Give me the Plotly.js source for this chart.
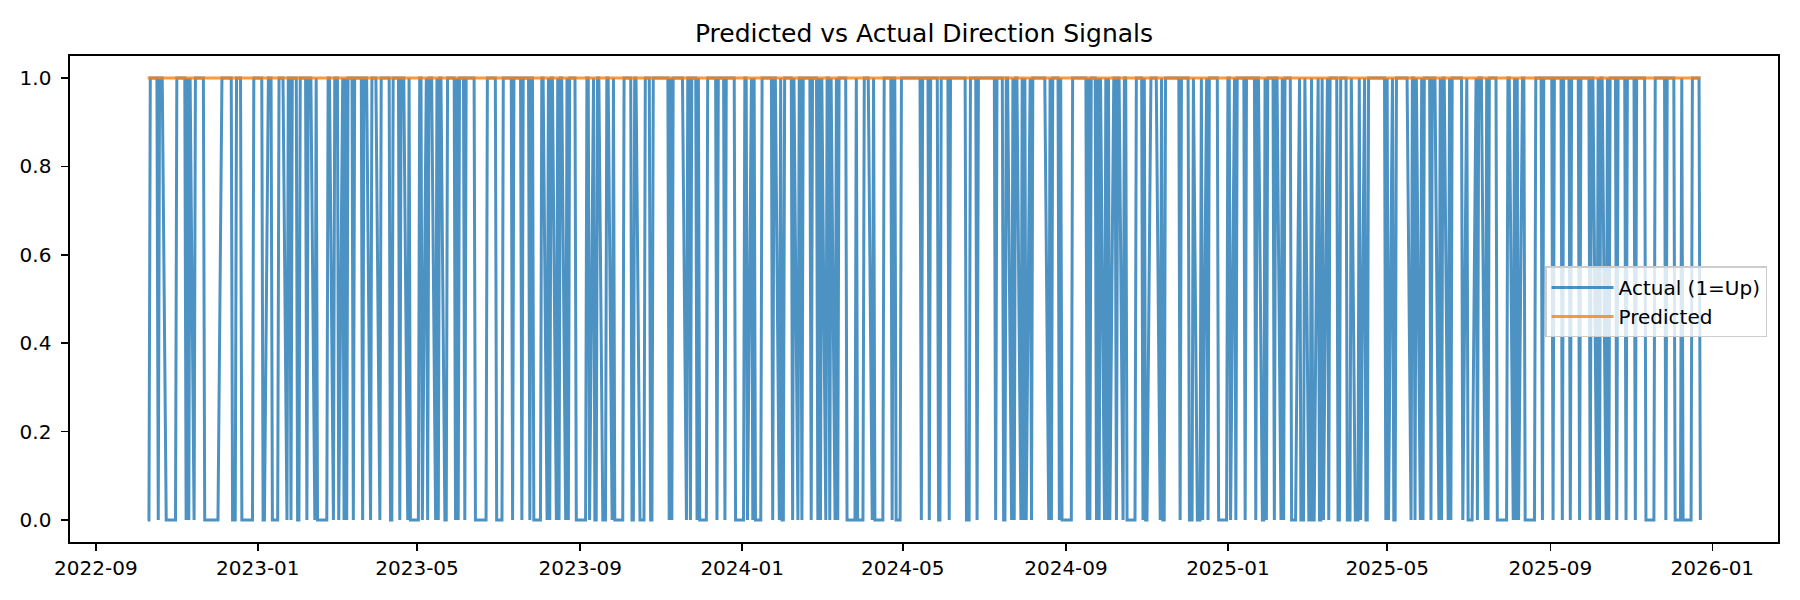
<!DOCTYPE html>
<html>
<head>
<meta charset="utf-8">
<script src="https://cdn.plot.ly/plotly-3.0.1.min.js"></script>
<style>
  html, body { margin: 0; padding: 0; background: #ffffff; }
  #chart { width: 1800px; height: 600px; }
</style>
</head>
<body>
<div id="chart"></div>
<script>
// ---- Data ----
// First trading day shown and the weekday sessions that follow it.
const firstSession = "2022-10-10";
// Actual direction (1 = up, 0 = down), one digit per session, 10 sessions per row.
const actualRows = [
  "0011110111","0000001111","1010101111","1000000000","1111110001",
  "1000000011","1110011100","0111101101","1001110111","0100000011",
  "0111010101","1011110111","0111101111","1001110111","0100000110",
  "1011101011","0011110101","1011111000","0000111110","0011111011",
  "1101110110","0001101011","0101101011","1000000110","1001100011",
  "0100000111","1001100001","1001111111","1010111111","0110110100",
  "0011111011","1011111000","0011010100","0111111011","0100111101",
  "0110111101","1010101101","0101111000","0010001111","0100000111",
  "1011001111","1111111011","1011110011","1101111111","1000111011",
  "1111111011","1001101011","0101010111","1111101011","1010000001",
  "1111110101","1010101010","1101101100","0001110100","1111101001",
  "1111110111","1000100010","1011111000","0011010111","1011111011",
  "0010111011","0101110000","1000100100","1001010111","1001110001",
  "0001010011","1111111010","1001111111","0110101011","1011101011",
  "0101111110","1000010111","0101111000","0001101010","1100000011",
  "1011111011","1101110111","1011111011","0101101011","1011110111",
  "1011111000","0011111101","1110001000","0011110"
];
// Predicted signal: flat at 1 for every session.
const predictedLevel = 1;

// Labels
const titleText = "Predicted vs Actual Direction Signals";
const actualName = "Actual (1=Up)";
const predictedName = "Predicted";
const yTickVals = [0.0, 0.2, 0.4, 0.6, 0.8, 1.0];

// ---- Build series ----
const actual = actualRows.join("").split("").map(Number);
const predicted = actual.map(() => predictedLevel);

function weekdaySessions(start, n) {
  const out = [];
  const d = new Date(start + "T00:00:00Z");
  while (out.length < n) {
    const wd = d.getUTCDay();
    if (wd !== 0 && wd !== 6) out.push(d.toISOString().slice(0, 10));
    d.setUTCDate(d.getUTCDate() + 1);
  }
  return out;
}
const dates = weekdaySessions(firstSession, actual.length);

// matplotlib-like 5% autoscale margins on the date axis
const t0 = Date.parse(dates[0] + "T00:00:00Z");
const t1 = Date.parse(dates[dates.length - 1] + "T00:00:00Z");
const pad = (t1 - t0) * 0.05;
const fmt = t => new Date(t).toISOString().replace("T", " ").slice(0, 19);
const xRange = [fmt(t0 - pad), fmt(t1 + pad)];

const font = "DejaVu Sans, Liberation Sans, Arial, sans-serif";

const traces = [
  {
    type: "scatter", mode: "lines", name: actualName,
    x: dates, y: actual,
    line: { color: "rgba(31,119,180,0.8)", width: 3 },
    hoverinfo: "skip"
  },
  {
    type: "scatter", mode: "lines", name: predictedName,
    x: dates, y: predicted,
    line: { color: "rgba(255,127,14,0.8)", width: 3 },
    hoverinfo: "skip"
  }
];

const layout = {
  width: 1800, height: 600,
  paper_bgcolor: "#ffffff", plot_bgcolor: "#ffffff",
  margin: { l: 70, r: 22, t: 56, b: 58, pad: 0 },
  font: { family: font, size: 20, color: "#000000" },
  title: {
    text: titleText,
    font: { family: font, size: 25, color: "#000000" },
    x: 0.5, xanchor: "center", xref: "paper",
    y: 0.945, yanchor: "middle", yref: "container"
  },
  xaxis: {
    type: "date", range: xRange,
    tick0: "2022-09-01", dtick: "M4", tickformat: "%Y-%m",
    ticks: "outside", ticklen: 7, tickwidth: 1.6, tickcolor: "#000",
    showgrid: false, zeroline: false,
    showline: true, mirror: true, linecolor: "#000", linewidth: 1.6,
    tickfont: { family: font, size: 20, color: "#000" }
  },
  yaxis: {
    range: [-0.05, 1.05],
    tickmode: "array", tickvals: yTickVals,
    ticktext: yTickVals.map(v => v.toFixed(1)),
    ticks: "outside", ticklen: 7, tickwidth: 1.6, tickcolor: "#000",
    ticklabelstandoff: 6,
    showgrid: false, zeroline: false,
    showline: true, mirror: true, linecolor: "#000", linewidth: 1.6,
    tickfont: { family: font, size: 20, color: "#000" }
  },
  showlegend: true,
  legend: {
    x: 0.9936, xanchor: "right", xref: "paper",
    y: 0.567, yanchor: "top", yref: "paper",
    bgcolor: "rgba(255,255,255,0.8)", bordercolor: "#cccccc", borderwidth: 1.5,
    font: { family: font, size: 20, color: "#000" },
    itemwidth: 62,
    tracegroupgap: 0
  }
};

Plotly.newPlot("chart", traces, layout, { displayModeBar: false, staticPlot: true });
</script>
</body>
</html>
